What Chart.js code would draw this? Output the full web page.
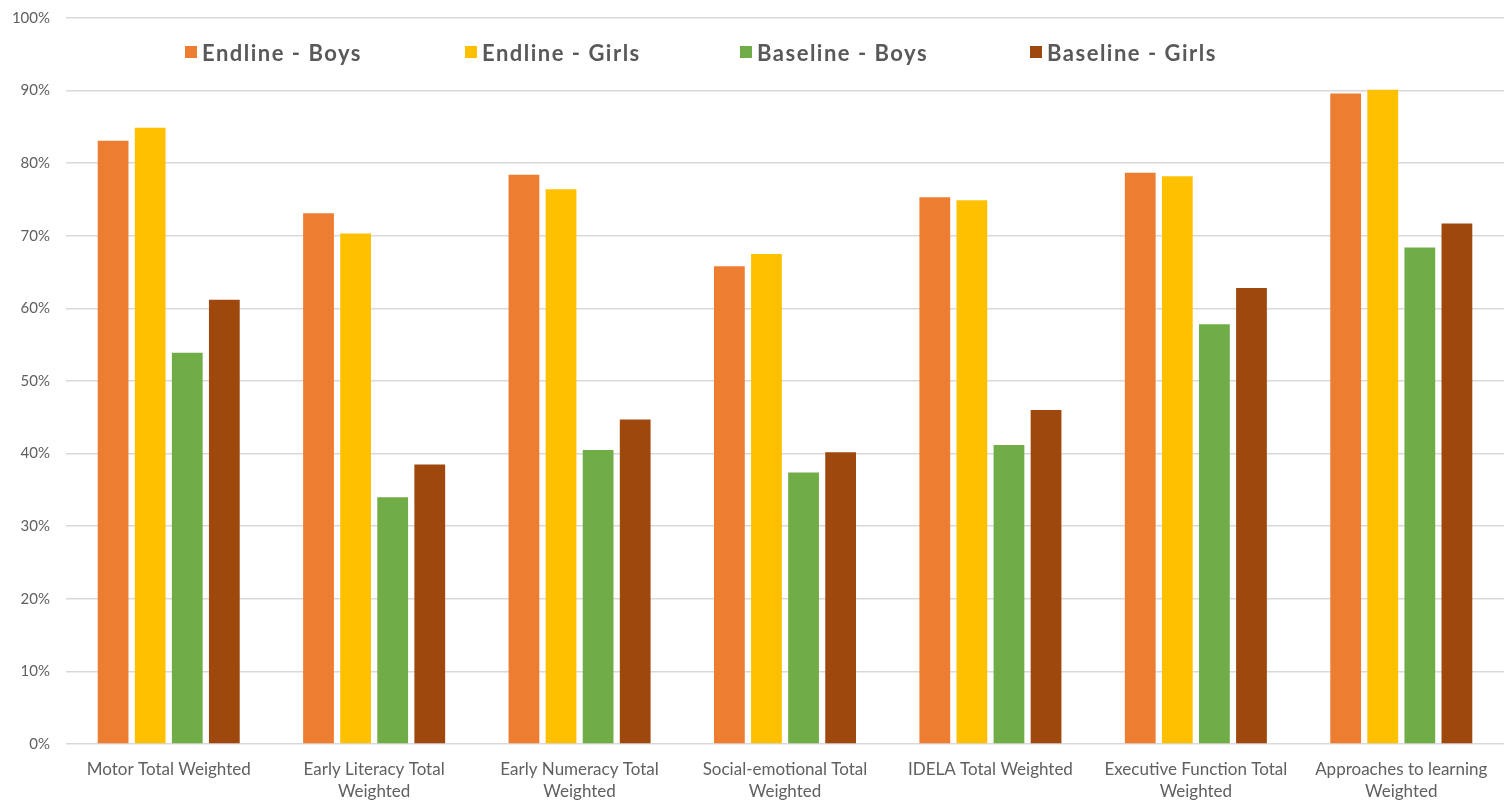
<!DOCTYPE html>
<html>
<head>
<meta charset="utf-8">
<script src="https://cdn.jsdelivr.net/npm/chart.js@4.4.0/dist/chart.umd.min.js"></script>
<style>
  html, body { margin: 0; padding: 0; background: #fff; }
  #wrap { position: relative; width: 1510px; height: 802px; }
  #c { position: absolute; left: 0; top: 0; }
  #legend { position: absolute; top: 37px; left: 0; width: 1510px; height: 30px; font-family: "Lato", "Open Sans", sans-serif; }
  .li { position: absolute; top: 0; display: flex; align-items: center; height: 30px; font-weight: 700; font-size: 22px; letter-spacing: 1.5px; color: #595959; white-space: nowrap; }
  .li span.sw { display: inline-block; width: 12px; height: 12px; margin-right: 5px; }
</style>
</head>
<body>
<div id="wrap">
  <canvas id="c" width="1510" height="802"></canvas>
  <div id="legend"></div>
</div>
<script>
const categories = [
  "Motor Total Weighted",
  ["Early Literacy Total", "Weighted"],
  ["Early Numeracy Total", "Weighted"],
  ["Social-emotional Total", "Weighted"],
  "IDELA Total Weighted",
  ["Executive Function Total", "Weighted"],
  ["Approaches to learning", "Weighted"]
];
const seriesNames = ["Endline - Boys", "Endline - Girls", "Baseline - Boys", "Baseline - Girls"];
const endlineBoys   = [83.1, 73.1, 78.4, 65.8, 75.3, 78.7, 89.6];
const endlineGirls  = [84.9, 70.3, 76.4, 67.5, 74.9, 78.2, 90.1];
const baselineBoys  = [53.9, 34.0, 40.5, 37.4, 41.2, 57.8, 68.4];
const baselineGirls = [61.2, 38.5, 44.7, 40.2, 46.0, 62.8, 71.7];
const yTicks = [0, 10, 20, 30, 40, 50, 60, 70, 80, 90, 100];
const colors = ["#ED7D31", "#FFC000", "#70AD47", "#9E480E"];

const seriesData = [endlineBoys, endlineGirls, baselineBoys, baselineGirls];

const chart = new Chart(document.getElementById('c'), {
  type: 'bar',
  data: {
    labels: categories,
    datasets: seriesNames.map((n, i) => ({
      label: n,
      data: seriesData[i],
      backgroundColor: colors[i],
      borderWidth: 0,
      categoryPercentage: 0.722,
      barPercentage: 0.83
    }))
  },
  options: {
    responsive: false,
    animation: false,
    layout: { padding: { top: 18, right: 6, left: 0, bottom: 0 } },
    plugins: {
      legend: { display: false },
      tooltip: { enabled: false }
    },
    scales: {
      x: {
        grid: { display: false, drawTicks: false },
        border: { display: false },
        ticks: {
          color: '#606060',
          font: { family: 'Lato, "Open Sans", sans-serif', size: 17, lineHeight: 1.3 },
          maxRotation: 0,
          autoSkip: false,
          padding: 14
        },
        afterFit: s => { s.height = 58; }
      },
      y: {
        min: 0, max: 100,
        afterBuildTicks: s => { s.ticks = yTicks.map(v => ({ value: v })); },
        grid: { color: '#d9d9d9', lineWidth: 1.5, drawTicks: false },
        border: { display: false },
        ticks: {
          color: '#606060',
          font: { family: 'Lato, "Open Sans", sans-serif', size: 15 },
          padding: 16,
          callback: v => v + '%'
        },
        afterFit: s => { s.width = 66; s.paddingTop = 0; s.paddingBottom = 0; }
      }
    }
  }
});

// HTML legend built from datasets
const legendPos = [185, 465, 740, 1030];
const lg = document.getElementById('legend');
chart.data.datasets.forEach((ds, i) => {
  const d = document.createElement('div');
  d.className = 'li';
  d.style.left = legendPos[i] + 'px';
  const sw = document.createElement('span');
  sw.className = 'sw';
  sw.style.background = ds.backgroundColor;
  d.appendChild(sw);
  d.appendChild(document.createTextNode(ds.label));
  lg.appendChild(d);
});
</script>
</body>
</html>
